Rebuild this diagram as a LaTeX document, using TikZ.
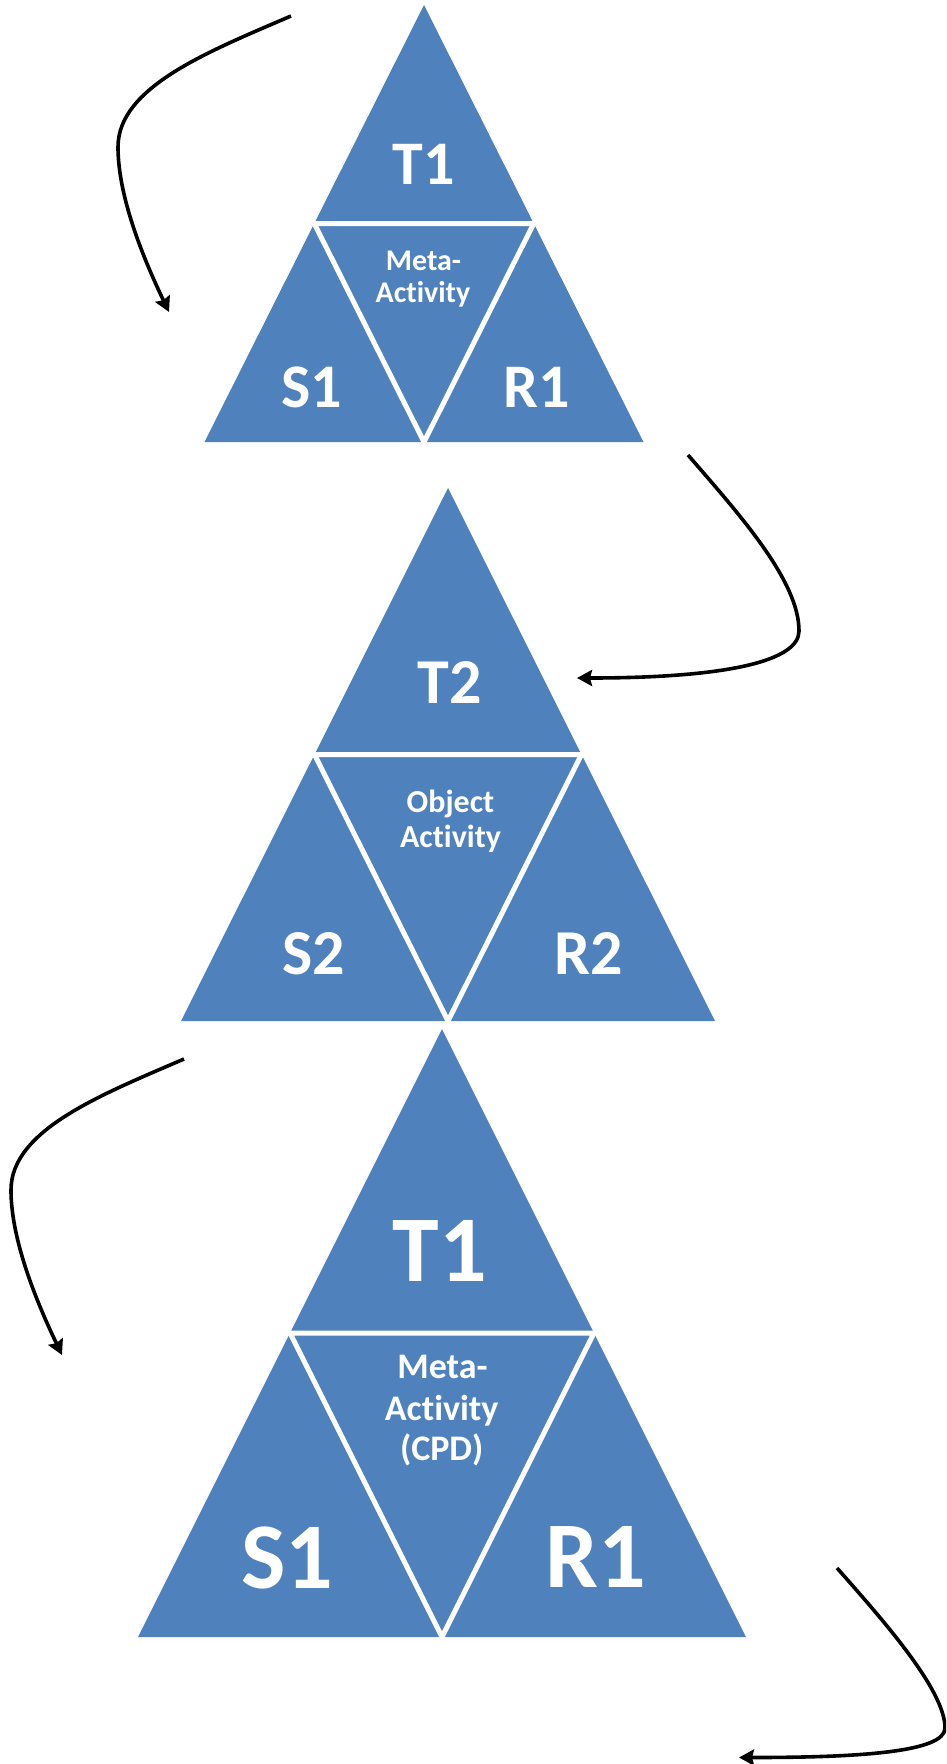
\documentclass[tikz,border=0pt]{standalone}
\usepackage{fontspec}
\setmainfont{Carlito}[RawFeature={-liga}]
\usetikzlibrary{arrows.meta}
\definecolor{triblue}{HTML}{4F81BD}

% Activity triangle: name, apex x, apex y, height, half base width.
% A filled triangle split into four by white gaps along the midpoint triangle.
\newcommand{\activitytriangle}[5]{%
  \coordinate (#1-a)  at (#2,#3);
  \coordinate (#1-l)  at ({#2-#5},{#3+#4});
  \coordinate (#1-r)  at ({#2+#5},{#3+#4});
  \coordinate (#1-ml) at ({#2-#5/2},{#3+#4/2});
  \coordinate (#1-mr) at ({#2+#5/2},{#3+#4/2});
  \coordinate (#1-bm) at (#2,{#3+#4});
  \fill[tri] (#1-a) -- (#1-l) -- (#1-r) -- cycle;
  \draw[gap] (#1-ml) -- (#1-mr) -- (#1-bm) -- cycle;
}

\begin{document}
\begin{tikzpicture}[x=1pt,y=-1pt,
  tri/.style={fill=triblue},
  gap/.style={draw=white,line width=5pt},
  lbl/.style={text=white,anchor=base,inner sep=0pt},
  bigA/.style={lbl,font=\fontsize{62}{62}\selectfont\bfseries},
  smallA/.style={lbl,font=\fontsize{30}{30}\selectfont\bfseries},
  bigB/.style={lbl,font=\fontsize{64}{64}\selectfont\bfseries},
  smallB/.style={lbl,font=\fontsize{32}{32}\selectfont\bfseries},
  bigC/.style={lbl,font=\fontsize{94}{94}\selectfont\bfseries},
  smallC/.style={lbl,font=\fontsize{36}{36}\selectfont\bfseries},
  flow/.style={draw=black,line width=3.6pt,
    -{Stealth[length=15pt,width=16pt,inset=2pt]}}
]
\useasboundingbox (0,0) rectangle (946,1764);
\clip (0,0) rectangle (946,1764);

% ---- first meta-activity triangle
\activitytriangle{ta}{424}{5}{437}{219.5}
\node[bigA]   (ta-t)  at (424,184) {T1};
\node[bigA]   (ta-s)  at (312,407) {S1};
\node[bigA]   (ta-rr) at (537,407) {R1};
\node[smallA] (ta-m1) at (423.5,270) {Meta-};
\node[smallA] (ta-m2) at (423,302) {Activity};

% ---- object activity triangle
\activitytriangle{tb}{448}{488}{533}{267}
\node[bigB]   (tb-t)  at (450,703.5) {T2};
\node[bigB]   (tb-s)  at (314,974) {S2};
\node[bigB]   (tb-rr) at (588.5,974) {R2};
\node[smallB] (tb-m1) at (450.5,812.5) {Object};
\node[smallB] (tb-m2) at (450.5,847.5) {Activity};

% ---- CPD meta-activity triangle
\activitytriangle{tc}{442}{1029}{608}{304}
\node[bigC]   (tc-t)  at (440,1281.5) {T1};
\node[bigC]   (tc-s)  at (287.5,1588.5) {S1};
\node[bigC]   (tc-rr) at (596,1587.5) {R1};
\node[smallC] (tc-m1) at (442.5,1378.5) {Meta-};
\node[smallC] (tc-m2) at (441.7,1420) {Activity};
\node[smallC] (tc-m3) at (441.7,1460) {(CPD)};

% ---- curved flow arrows
\coordinate (a1s) at (291,16);
\coordinate (a1m) at (118,147);
\coordinate (a1e) at (169,312);
\draw[flow] (a1s) .. controls +(-82.6,35.6) and +(0,-60) .. (a1m)
                  .. controls +(0,40) and +(-34.6,-72.2) .. (a1e);

\coordinate (a2s) at (688,455);
\coordinate (a2m) at (799,631);
\coordinate (a2e) at (577,678);
\draw[flow] (a2s) .. controls +(52.4,60.5) and +(0,-50) .. (a2m)
                  .. controls +(0,30) and +(150,0) .. (a2e);

\coordinate (a3s) at (184,1059);
\coordinate (a3m) at (11,1190);
\coordinate (a3e) at (62,1355);
\draw[flow] (a3s) .. controls +(-82.6,35.6) and +(0,-60) .. (a3m)
                  .. controls +(0,40) and +(-34.6,-72.2) .. (a3e);

\coordinate (a4s) at (837,1568);
\coordinate (a4m) at (945,1728);
\coordinate (a4e) at (739,1757.5);
\draw[flow] (a4s) .. controls +(46,52) and +(0,-38) .. (a4m)
                  .. controls +(0,24) and +(121,0) .. (a4e);
\end{tikzpicture}
\end{document}
